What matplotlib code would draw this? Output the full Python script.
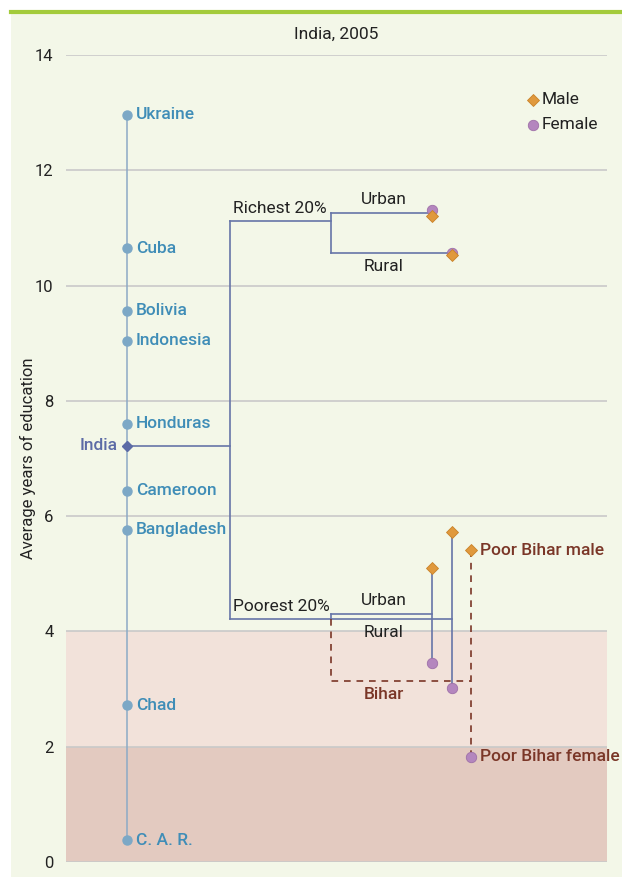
import matplotlib
matplotlib.use("Agg")
import matplotlib.pyplot as plt
from matplotlib.patches import Rectangle
from matplotlib.lines import Line2D

plt.rcParams['font.family'] = ['Roboto', 'DejaVu Sans']

# ---- data ----
countries = ["Ukraine", "Cuba", "Bolivia", "Indonesia", "Honduras",
             "Cameroon", "Bangladesh", "Chad", "C. A. R."]
country_years = [12.96, 10.65, 9.56, 9.04, 7.60, 6.44, 5.76, 2.72, 0.38]
india_years = 7.22

quintile_labels = ["Richest 20%", "Poorest 20%"]
quintile_years = [11.12, 4.22]

area_labels = ["Urban", "Rural"]
rich_area_years = [11.26, 10.56]
poor_area_years = [4.30, 4.22]
rich_male = [11.21, 10.53]
rich_female = [11.31, 10.56]
poor_male = [5.10, 5.73]
poor_female = [3.46, 3.02]

bihar_years = 3.14
poor_bihar_male = 5.41
poor_bihar_female = 1.83

yticks = [0, 2, 4, 6, 8, 10, 12, 14]

# ---- styling ----
BG = '#F3F7E8'
GREEN = '#A3CB3B'
GRID = '#C9C9C9'
BAND_LO = '#E3CAC0'
BAND_MID = '#F2E2DA'
CTRY_LINE = '#8CAAC6'
CTRY_DOT = '#7CA8C6'
CTRY_TXT = '#3F8DB7'
TREE = '#6675A8'
INDIA = '#5C6BA6'
MALE = '#E0993D'
MALE_EDGE = '#C98228'
FEMALE = '#B486BE'
FEMALE_EDGE = '#9E70A8'
BIHAR = '#7A3627'
TXT = '#222222'
FS = 12.5

W, H = 622, 877
fig = plt.figure(figsize=(W / 100, H / 100), dpi=100, facecolor='white')
fig.patches.append(Rectangle((11 / W, 0), 1 - 11 / W, 1 - 12 / H,
                             transform=fig.transFigure, facecolor=BG,
                             edgecolor='none', zorder=-10))
fig.add_artist(Line2D([11 / W, 1], [1 - 11.5 / H, 1 - 11.5 / H],
                      transform=fig.transFigure, color=GREEN, lw=3, zorder=-5))

ax = fig.add_axes([66 / W, 1 - 862 / H, (607 - 66) / W, (862 - 55) / H])
ax.set_zorder(5)
ax.set_facecolor('none')
ax.set_xlim(0, 541)
ax.set_ylim(0, 14)
for s in ax.spines.values():
    s.set_visible(False)
ax.set_xticks([])
ax.set_yticks(yticks)
ax.tick_params(axis='y', length=0, pad=9, labelsize=12, labelcolor=TXT)
ax.set_ylabel("Average years of education", fontsize=12, color=TXT)
ax.yaxis.set_label_coords((36 - 66) / 541, 0.5)

# bands and grid
ax.axhspan(0, 2, color=BAND_LO, lw=0, zorder=0)
ax.axhspan(2, 4, color=BAND_MID, lw=0, zorder=0)
for t in yticks:
    ax.axhline(t, color=GRID, lw=1.2, zorder=1)

ax.text(270, 14.35, "India, 2005", ha='center', va='center', fontsize=FS, color=TXT)

# layout x positions
X_CTRY = 61
X_Q = 164
X_AREA = 265
X_URB = 366.5
X_RUR = 386
X_BIH = 405

# countries
ax.plot([X_CTRY, X_CTRY], [min(country_years), max(country_years)],
        color=CTRY_LINE, lw=1.1, zorder=2)
ax.plot([X_CTRY] * len(country_years), country_years, 'o', ms=6.5,
        color=CTRY_DOT, zorder=3)
for name, v in zip(countries, country_years):
    ax.text(X_CTRY + 9, v, name, va='center', ha='left', fontsize=FS,
            color=CTRY_TXT, fontweight='medium')

# India
ax.plot([X_CTRY, X_Q], [india_years, india_years], color=TREE, lw=1.2, zorder=2)
ax.plot([X_CTRY], [india_years], 'D', ms=5.5, color=INDIA, zorder=4)
ax.text(X_CTRY - 9, india_years, "India", ha='right', va='center',
        fontsize=FS, color=INDIA, fontweight='medium')

# quintiles
ax.plot([X_Q, X_Q], [quintile_years[1], quintile_years[0]], color=TREE, lw=1.2, zorder=2)
for lab, v in zip(quintile_labels, quintile_years):
    ax.plot([X_Q, X_AREA], [v, v], color=TREE, lw=1.2, zorder=2)
    ax.text(X_Q + 3, v + 0.08, lab, ha='left', va='bottom', fontsize=FS, color=TXT)

xs_area = [X_URB, X_RUR]
# richest branch
ax.plot([X_AREA, X_AREA], [min(rich_area_years), max(rich_area_years)],
        color=TREE, lw=1.2, zorder=2)
for x, v in zip(xs_area, rich_area_years):
    ax.plot([X_AREA, x], [v, v], color=TREE, lw=1.2, zorder=2)
# poorest branch
ax.plot([X_AREA, X_AREA], [min(poor_area_years), max(poor_area_years)],
        color=TREE, lw=1.2, zorder=2)
for x, v in zip(xs_area, poor_area_years):
    ax.plot([X_AREA, x], [v, v], color=TREE, lw=1.2, zorder=2)

# gender stems and markers
for x, m, f in zip(xs_area + xs_area, rich_male + poor_male, rich_female + poor_female):
    ax.plot([x, x], [m, f], color=TREE, lw=1.2, zorder=2)
    ax.plot([x], [f], 'o', ms=7.5, color=FEMALE, mec=FEMALE_EDGE, mew=0.6, zorder=5)
    ax.plot([x], [m], 'D', ms=6.5, color=MALE, mec=MALE_EDGE, mew=0.6, zorder=6)

# area labels
ax.text(318, rich_area_years[0] + 0.1, "Urban", ha='center', va='bottom', fontsize=FS, color=TXT)
ax.text(318, rich_area_years[1] - 0.1, "Rural", ha='center', va='top', fontsize=FS, color=TXT)
ax.text(318, poor_area_years[0] + 0.1, "Urban", ha='center', va='bottom', fontsize=FS, color=TXT)
ax.text(318, poor_area_years[1] - 0.1, "Rural", ha='center', va='top', fontsize=FS, color=TXT)

# Bihar (dashed)
dash = dict(color=BIHAR, lw=1.2, ls=(0, (4, 3.5)), zorder=2)
ax.plot([X_AREA, X_AREA, X_BIH], [poor_area_years[1], bihar_years, bihar_years], **dash)
ax.plot([X_BIH, X_BIH], [poor_bihar_female, poor_bihar_male], **dash)
ax.text(318, bihar_years - 0.1, "Bihar", ha='center', va='top', fontsize=FS,
        color=BIHAR, fontweight='medium')
ax.plot([X_BIH], [poor_bihar_female], 'o', ms=7.5, color=FEMALE, mec=FEMALE_EDGE, mew=0.6, zorder=5)
ax.plot([X_BIH], [poor_bihar_male], 'D', ms=6.5, color=MALE, mec=MALE_EDGE, mew=0.6, zorder=6)
ax.text(X_BIH + 9, poor_bihar_male, "Poor Bihar male", ha='left', va='center',
        fontsize=FS, color=BIHAR, fontweight='medium', clip_on=False)
ax.text(X_BIH + 9, poor_bihar_female, "Poor Bihar female", ha='left', va='center',
        fontsize=FS, color=BIHAR, fontweight='medium', clip_on=False)

# legend
LX = 467
ax.plot([LX], [13.22], 'D', ms=6.5, color=MALE, mec=MALE_EDGE, mew=0.6, zorder=6)
ax.text(LX + 9, 13.22, "Male", ha='left', va='center', fontsize=FS, color=TXT)
ax.plot([LX], [12.79], 'o', ms=7.5, color=FEMALE, mec=FEMALE_EDGE, mew=0.6, zorder=6)
ax.text(LX + 9, 12.79, "Female", ha='left', va='center', fontsize=FS, color=TXT)

fig.savefig("out.png", dpi=100, facecolor='white')
